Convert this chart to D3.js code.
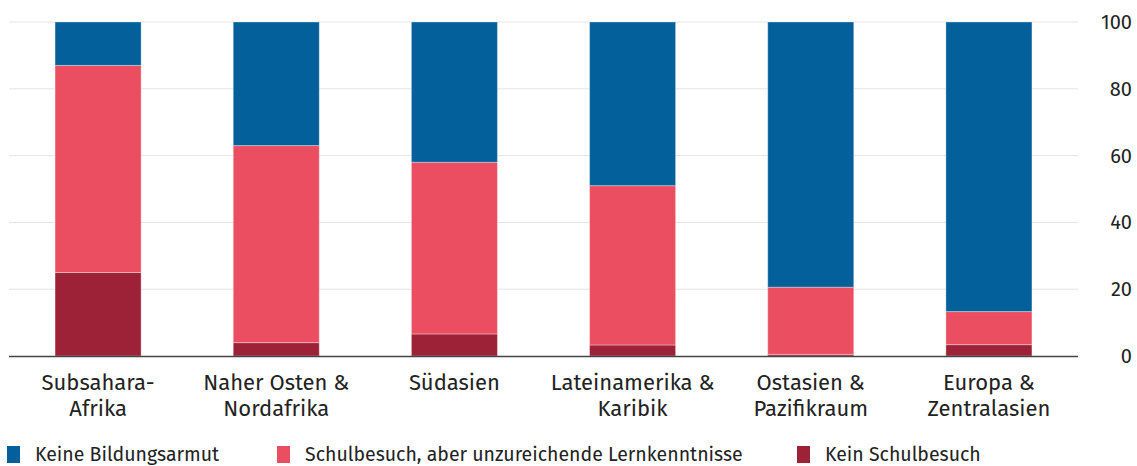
<!DOCTYPE html>
<html>
<head>
<meta charset="utf-8">
<script src="https://cdn.jsdelivr.net/npm/d3@7"></script>
<style>
  body { margin: 0; background: #fff; }
  svg text { font-family: "Fira Sans", "Noto Sans", sans-serif; fill: #222; }
</style>
</head>
<body>
<div id="viz"></div>
<script>
"use strict";

var w = 1137;
var h = 466;

// regions, two lines each
var regions = [
  ["Subsahara-", "Afrika"],
  ["Naher Osten &", "Nordafrika"],
  ["Südasien"],
  ["Lateinamerika &", "Karibik"],
  ["Ostasien &", "Pazifikraum"],
  ["Europa &", "Zentralasien"]
];

// shares in percent, bottom to top
var keinSchulbesuch = [25, 4, 6.6, 3.3, 0.5, 3.4];
var unzureichend = [62, 59, 51.4, 47.7, 20.1, 9.9];
var keineArmut = [13, 37, 42, 49, 79.4, 86.7];

var seriesNames = ["Kein Schulbesuch", "Schulbesuch, aber unzureichende Lernkenntnisse", "Keine Bildungsarmut"];
var legendOrder = ["Keine Bildungsarmut", "Schulbesuch, aber unzureichende Lernkenntnisse", "Kein Schulbesuch"];
var yTicks = [0, 20, 40, 60, 80, 100];

var colors = {
  "Keine Bildungsarmut": "#03609a",
  "Schulbesuch, aber unzureichende Lernkenntnisse": "#eb4e60",
  "Kein Schulbesuch": "#9e2237"
};

var rows = regions.map(function(r, i) {
  return {
    key: i,
    "Kein Schulbesuch": keinSchulbesuch[i],
    "Schulbesuch, aber unzureichende Lernkenntnisse": unzureichend[i],
    "Keine Bildungsarmut": keineArmut[i]
  };
});

var svg = d3.select("#viz")
  .append("svg")
  .attr("width", w)
  .attr("height", h);

var x = d3.scaleBand()
  .domain(d3.range(regions.length))
  .range([9, 1078])
  .paddingInner(0.517)
  .paddingOuter(0.2585);

var y = d3.scaleLinear()
  .domain([0, 100])
  .range([356, 22]);

// grid
svg.append("g")
  .selectAll("line.grid")
  .data(yTicks.filter(function(d) { return d > 0; })).enter()
  .append("line")
  .attr("x1", 9)
  .attr("x2", 1078)
  .attr("y1", function(d) { return y(d); })
  .attr("y2", function(d) { return y(d); })
  .attr("stroke", "#e4e4e4")
  .attr("stroke-width", 1);

var yAxis = svg.append("g")
  .attr("transform", "translate(1132,0)")
  .call(d3.axisLeft(y).tickValues(yTicks).tickSize(0).tickPadding(0));
yAxis.select(".domain").remove();
yAxis.selectAll("text")
  .style("font-size", "20px")
  .attr("text-anchor", "end")
  .attr("fill", "#222");

// bars
var stack = d3.stack().keys(seriesNames)(rows);

svg.append("g")
  .selectAll("g.layer")
  .data(stack).enter()
  .append("g")
  .attr("fill", function(d) { return colors[d.key]; })
  .selectAll("rect")
  .data(function(d) { return d; }).enter()
  .append("rect")
  .attr("x", function(d) { return x(d.data.key); })
  .attr("width", x.bandwidth())
  .attr("y", function(d) { return y(d[1]); })
  .attr("height", function(d) { return y(d[0]) - y(d[1]); })
  .attr("stroke", "rgba(255,255,255,0.35)")
  .attr("stroke-width", 1);

// baseline
svg.append("line")
  .attr("x1", 9)
  .attr("x2", 1078)
  .attr("y1", y(0) + 0.5)
  .attr("y2", y(0) + 0.5)
  .attr("stroke", "#444")
  .attr("stroke-width", 1.5);

// category labels
var xAxis = svg.append("g");
xAxis.selectAll("text")
  .data(regions).enter()
  .append("text")
  .attr("x", function(d, i) { return x(i) + x.bandwidth() / 2; })
  .attr("y", 390)
  .attr("text-anchor", "middle")
  .style("font-size", "22px")
  .selectAll("tspan")
  .data(function(d) { return d; }).enter()
  .append("tspan")
  .attr("x", function() { return d3.select(this.parentNode).attr("x"); })
  .attr("dy", function(d, i) { return i === 0 ? 0 : 26; })
  .text(function(d) { return d; });

// legend
var legendX = [7, 277, 797];
var legend = svg.append("g")
  .selectAll("g.legend")
  .data(legendOrder).enter()
  .append("g")
  .attr("transform", function(d, i) { return "translate(" + legendX[i] + ",446)"; });

legend.append("rect")
  .attr("width", 13)
  .attr("height", 17)
  .attr("fill", function(d) { return colors[d]; });

legend.append("text")
  .attr("x", 28)
  .attr("y", 15)
  .style("font-size", "19.5px")
  .text(function(d) { return d; });
</script>
</body>
</html>
